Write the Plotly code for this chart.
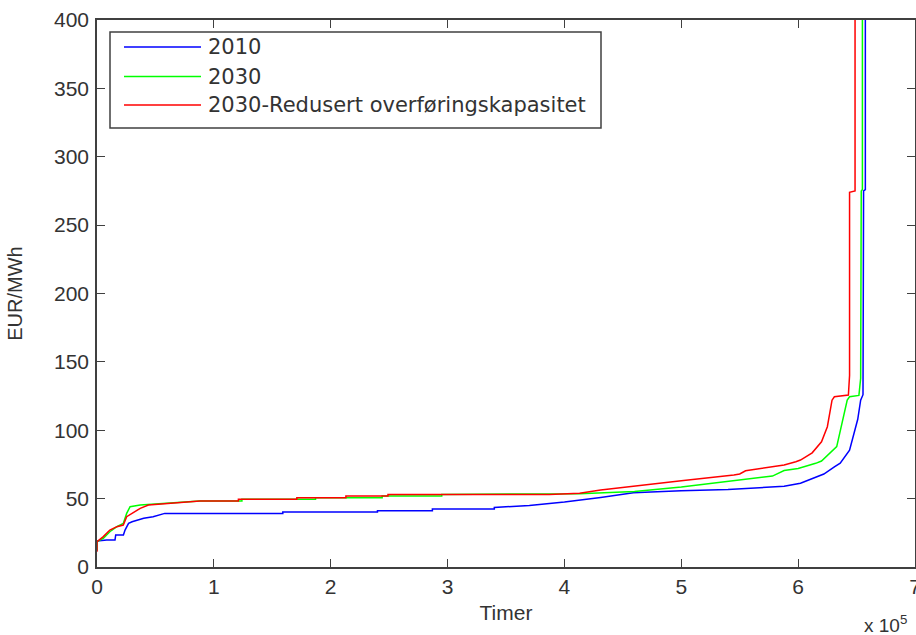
import plotly.graph_objects as go

# Price duration curves, x in units of 10^5 hours
x_2010 = [0, 0, 0.083, 0.154, 0.16, 0.226, 0.24, 0.27, 0.30, 0.40, 0.48, 0.58, 1.59, 1.59, 2.40, 2.40,
          2.87, 2.87, 3.40, 3.40, 3.70, 4.00, 4.31, 4.59, 4.74, 5.00, 5.40, 5.88, 6.02, 6.10, 6.22,
          6.31, 6.36, 6.44, 6.47, 6.51, 6.535, 6.555, 6.56, 6.575, 6.575]
y_2010 = [12, 19, 19.7, 19.7, 23.4, 23.4, 27, 31.9, 33.1, 35.6, 36.8, 39.2, 39.2, 40.2, 40.2, 41.2,
          41.2, 42.4, 42.4, 43.6, 45, 47.5, 50.9, 54.3, 54.8, 55.8, 56.6, 59.0, 61.2, 64, 68,
          73.3, 76, 85.5, 95, 108, 122, 126, 275, 276, 3000]

x_2030 = [0, 0, 0.054, 0.11, 0.17, 0.225, 0.254, 0.283, 0.37, 0.63, 0.88, 1.24, 1.24, 1.87, 1.87,
          2.44, 2.44, 2.95, 2.95, 4.13, 4.60, 5.00, 5.50, 5.78, 5.88, 6.00, 6.15, 6.20, 6.33, 6.37,
          6.42, 6.44, 6.52, 6.535, 6.54, 6.55, 6.55]
y_2030 = [12, 18.5, 21, 25.8, 29.5, 31.9, 39.2, 44.1, 45.3, 46.5, 48.2, 48.2, 49.5, 49.5, 50.7,
          50.7, 51.9, 51.9, 53.1, 53.6, 55.3, 58.5, 63.9, 66.5, 70.5, 72.1, 75.8, 77.5, 88, 102.6,
          122, 124.5, 125.5, 138, 275, 276, 3000]

x_2030r = [0, 0, 0.054, 0.11, 0.17, 0.225, 0.254, 0.30, 0.37, 0.44, 0.63, 0.88, 1.21, 1.21, 1.71,
           1.71, 2.13, 2.13, 2.49, 2.49, 3.87, 4.13, 4.31, 4.60, 5.00, 5.45, 5.50, 5.55, 5.88, 5.98,
           6.02, 6.12, 6.20, 6.25, 6.29, 6.31, 6.43, 6.44, 6.44, 6.487, 6.487]
y_2030r = [11.2, 18.5, 22.2, 27, 29.5, 30.7, 36.8, 39.2, 42.9, 45.3, 46.5, 48.2, 48.2, 49.5, 49.5,
           50.7, 50.7, 51.9, 51.9, 53.1, 53.1, 54, 56.3, 59.3, 63, 67.3, 68, 70.4, 74.6, 77,
           78.2, 83.5, 91.6, 102.6, 122, 124.5, 125.7, 140, 274, 275, 3000]

series = [
    ("2010", x_2010, y_2010, "#0000ff"),
    ("2030", x_2030, y_2030, "#00ff00"),
    ("2030-Redusert overføringskapasitet", x_2030r, y_2030r, "#ff0000"),
]

x_ticks = [0, 1, 2, 3, 4, 5, 6, 7]
y_ticks = [0, 50, 100, 150, 200, 250, 300, 350, 400]

W, H = 916, 635
M = dict(l=97, r=1, t=20, b=68)
plot_w = W - M["l"] - M["r"]
plot_h = H - M["t"] - M["b"]


def px_to_paper(px, py):
    return (px - M["l"]) / plot_w, (H - M["b"] - py) / plot_h


fig = go.Figure()
for name, xs, ys, color in series:
    fig.add_trace(go.Scatter(x=xs, y=ys, mode="lines", name=name, showlegend=False,
                             line=dict(color=color, width=1.5)))

axis_col = "#404040"
text_col = "#333333"
sans = "Liberation Sans, Arial, sans-serif"
axis_common = dict(showgrid=False, zeroline=False, showline=True, linecolor=axis_col, linewidth=1.5,
                   mirror="ticks", ticks="inside", ticklen=8, tickwidth=1.3, tickcolor=axis_col,
                   ticklabeloverflow="allow", automargin=False,
                   tickfont=dict(family=sans, size=21, color=text_col))

# Boxed legend in the upper left corner of the axes
shapes = []
annotations = []
bx0, by0 = px_to_paper(110, 32)
bx1, by1 = px_to_paper(601, 128)
shapes.append(dict(type="rect", xref="paper", yref="paper", x0=bx0, y0=by1, x1=bx1, y1=by0,
                   line=dict(color=axis_col, width=1.5), fillcolor="white", layer="above"))
for i, (name, _, _, color) in enumerate(series):
    row_y = [47, 76.5, 105][i]
    lx0, ly = px_to_paper(124, row_y)
    lx1, _ = px_to_paper(201, row_y)
    shapes.append(dict(type="line", xref="paper", yref="paper", x0=lx0, y0=ly, x1=lx1, y1=ly,
                       line=dict(color=color, width=1.5), layer="above"))
    tx, _ = px_to_paper(206, row_y)
    annotations.append(dict(text=name, xref="paper", yref="paper", x=tx, y=ly, xanchor="left",
                            yanchor="middle", showarrow=False,
                            font=dict(family="DejaVu Sans, sans-serif", size=21, color=text_col)))

annotations.append(dict(text="x 10<sup>5</sup>", xref="paper", yref="paper", x=0.935, y=-0.104,
                        xanchor="left", yanchor="middle", showarrow=False,
                        font=dict(family=sans, size=19, color=text_col)))

fig.update_layout(
    width=W, height=H,
    margin=dict(M, autoexpand=False),
    paper_bgcolor="white", plot_bgcolor="white",
    showlegend=False,
    shapes=shapes,
    annotations=annotations,
    xaxis=dict(range=[0, 7], tickvals=x_ticks, ticklabelstandoff=0,
               title=dict(text="Timer", standoff=8, font=dict(family=sans, size=21, color=text_col)),
               **axis_common),
    yaxis=dict(range=[0, 400], tickvals=y_ticks, ticklabelstandoff=2,
               title=dict(text="EUR/MWh", standoff=26, font=dict(family=sans, size=20, color=text_col)),
               **axis_common),
)

fig.write_html("out.html")
